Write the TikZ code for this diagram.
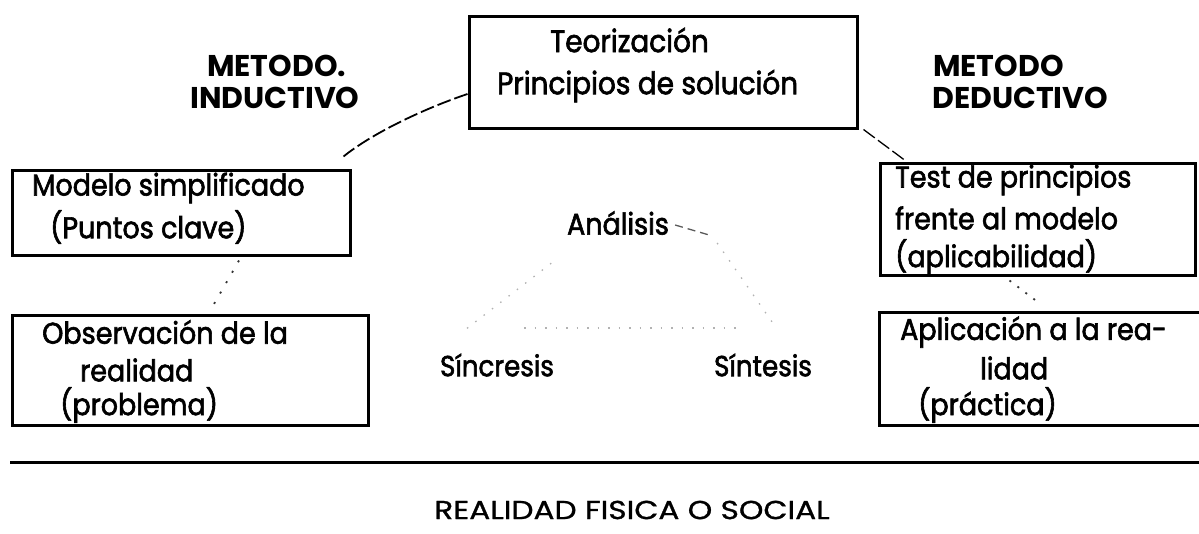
\documentclass[tikz,border=0pt]{standalone}
\usepackage{fontspec}
\setmainfont{Poppins}[FakeStretch=0.9]
\newfontfamily\medfont{Poppins}[FakeStretch=0.9, FakeBold=2]
\newfontfamily\ttlfont{Poppins}[FakeStretch=1.0]
\newfontfamily\capsfont{Poppins}[FakeStretch=1.2, FakeBold=1]
\begin{document}
\begin{tikzpicture}[x=1pt,y=-1pt,
  frame/.style={draw=black, line width=3pt, inner sep=0pt},
  txt/.style={anchor=west, inner sep=0pt, font=\medfont\fontsize{30}{34}\selectfont},
  ttl/.style={anchor=west, inner sep=0pt, text height=21pt, text depth=0pt, font=\ttlfont\fontsize{30}{33}\selectfont\bfseries},
  mid/.style={inner sep=0pt, font=\medfont\fontsize{29}{32}\selectfont},
  conn/.style={line width=1.8pt, dash pattern=on 14pt off 4pt},
  faint/.style={line width=1.3pt, gray!60, dash pattern=on 1.5pt off 9pt}
]
\useasboundingbox (0,0) rectangle (1199,533);
% boxes
\node[frame, minimum width=388pt, minimum height=112pt] (top) at (663,72) {};
\node[frame, minimum width=338pt, minimum height=85pt] (modelo) at (181,212.5) {};
\node[frame, minimum width=356pt, minimum height=110pt] (obs) at (190,370) {};
\node[frame, minimum width=315pt, minimum height=112pt] (test) at (1037.5,219) {};
\node[frame, minimum width=340pt, minimum height=113pt] (apl) at (1049,368.5) {};
% texts in boxes
\node[txt, font=\medfont\fontsize{31}{34}\selectfont] (t1) at (550,40) {Teorización};
\node[txt, font=\medfont\fontsize{31}{34}\selectfont] (t2) at (497,86) {Principios de solución};
\node[txt] (m1) at (32,188) {Modelo simplificado};
\node[txt] (m2) at (50,227) {(Puntos clave)};
\node[txt] (o1) at (42,332) {Observación de la};
\node[txt] (o2) at (80,370) {realidad};
\node[txt] (o3) at (60,405) {(problema)};
\node[txt] (s1) at (895,180) {Test de principios};
\node[txt] (s2) at (895,218) {frente al modelo};
\node[txt] (s3) at (895,257) {(aplicabilidad)};
\node[txt] (a1) at (900,332) {Aplicación a la rea-};
\node[txt] (a2) at (980,368) {lidad};
\node[txt] (a3) at (918,405) {(práctica)};
% titles
\node[ttl] (mi1) at (207,66) {METODO.};
\node[ttl] (mi2) at (190,98) {INDUCTIVO};
\node[ttl] (md1) at (933,66) {METODO};
\node[ttl] (md2) at (932,98) {DEDUCTIVO};
% middle
\node[mid, font=\medfont\fontsize{30}{32}\selectfont] (ana) at (618,223) {Análisis};
\node[mid] (sin) at (497,365) {Síncresis};
\node[mid] (sit) at (763,365) {Síntesis};
% base
\draw[line width=3pt] (10,462) -- (1199,462);
\node[inner sep=0pt, font=\capsfont\fontsize{26}{30}\selectfont] (real) at (632,510) {REALIDAD FISICA O SOCIAL};
% connectors
\draw[conn] ([yshift=-22pt]top.west) .. controls (420,110) and (370,135) .. ([xshift=-8pt,yshift=12pt]modelo.north east);
\draw[conn, line width=1.3pt] ([xshift=5pt]top.south east) -- ([xshift=28pt]test.north west);
\draw[faint, gray!40!black, dash pattern=on 2pt off 10pt, line width=1.8pt] ([xshift=58pt,yshift=-4pt]modelo.south) -- ([xshift=22pt,yshift=6pt]obs.north);
\draw[faint, gray!40!black, dash pattern=on 2pt off 8pt, line width=1.8pt] ([xshift=-28pt,yshift=-4pt]test.south) -- ([xshift=-8pt,yshift=6pt]apl.north);
\draw[faint] ([xshift=-30pt,yshift=25pt]sin.north) -- ([xshift=-60pt,yshift=-35pt]ana.center);
\draw[faint, gray!70!black, dash pattern=on 8pt off 5pt] ([xshift=6pt,yshift=-2pt]ana.east) -- ([xshift=40pt,yshift=-12pt]ana.east);
\draw[faint] ([xshift=48pt,yshift=-20pt]ana.east) -- ([xshift=10pt,yshift=30pt]sit.north);
\draw[faint] ([xshift=-30pt,yshift=37pt]sin.east) -- ([xshift=30pt,yshift=37pt]sit.west);
\end{tikzpicture}
\end{document}
